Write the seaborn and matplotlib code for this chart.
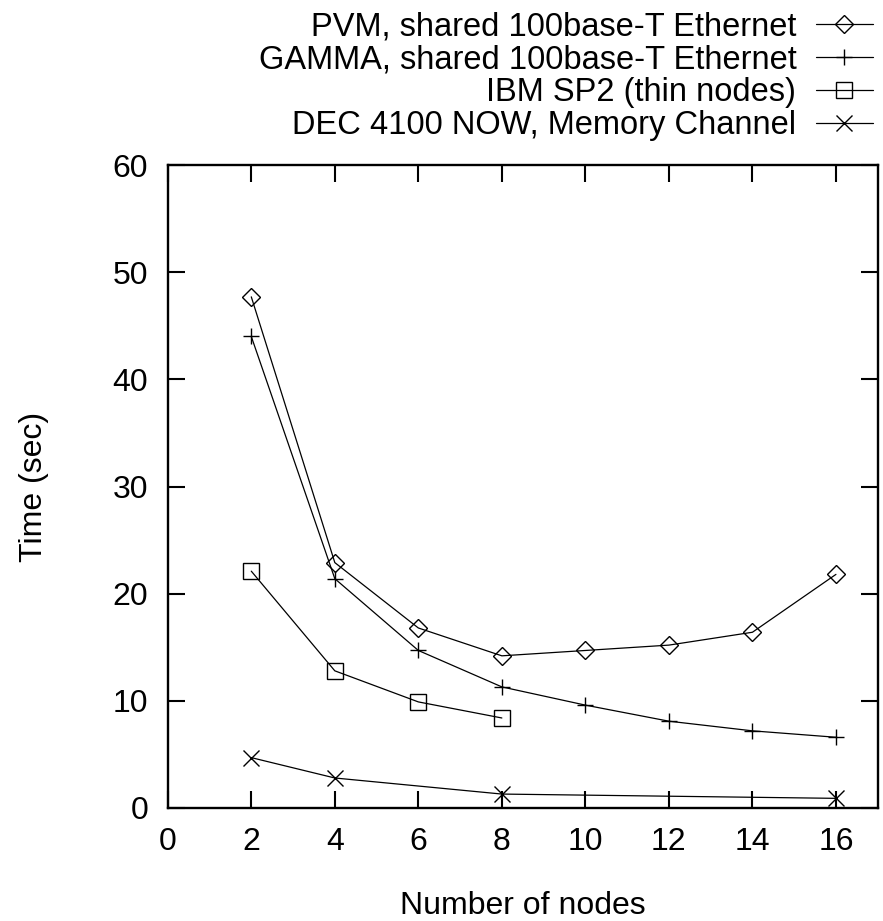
import matplotlib
matplotlib.use("Agg")
import matplotlib.pyplot as plt
import pandas as pd
import seaborn as sns

pvm_nodes = [2, 4, 6, 8, 10, 12, 14, 16]
pvm_time = [47.7, 22.9, 16.8, 14.2, 14.7, 15.2, 16.4, 21.8]

gamma_nodes = [2, 4, 6, 8, 10, 12, 14, 16]
gamma_time = [44.0, 21.4, 14.7, 11.3, 9.6, 8.1, 7.2, 6.6]

sp2_nodes = [2, 4, 6, 8]
sp2_time = [22.1, 12.8, 9.9, 8.4]

dec_nodes = [2, 4, 8, 16]
dec_time = [4.7, 2.8, 1.3, 0.9]

series_names = ["PVM, shared 100base-T Ethernet",
                "GAMMA, shared 100base-T Ethernet",
                "IBM SP2 (thin nodes)",
                "DEC 4100 NOW, Memory Channel"]
x_ticks = list(range(0, 17, 2))
y_ticks = list(range(0, 61, 10))

frames = []
for name, xs, ys in zip(series_names,
                        [pvm_nodes, gamma_nodes, sp2_nodes, dec_nodes],
                        [pvm_time, gamma_time, sp2_time, dec_time]):
    frames.append(pd.DataFrame({"nodes": xs, "time": ys, "system": name}))
df = pd.concat(frames, ignore_index=True)

sns.set_theme(style="ticks")
plt.rcParams['font.family'] = ['Liberation Sans', 'DejaVu Sans']
plt.rcParams['text.color'] = 'black'
plt.rcParams['axes.labelcolor'] = 'black'

FS = 23
LEG_FS = 23.5
fig = plt.figure(figsize=(8.83, 9.21), dpi=100)
ax = fig.add_axes([0.190, 0.1227, 0.804, 0.6981])

markers = {series_names[0]: ("D", 9), series_names[1]: ("+", 12),
           series_names[2]: ("s", 12), series_names[3]: ("x", 12)}

for name in series_names:
    sub = df[df["system"] == name]
    m, ms = markers[name]
    sns.lineplot(data=sub, x="nodes", y="time", ax=ax, color="black",
                 linewidth=0.9, marker=m, markersize=ms, mfc="none",
                 mec="black", mew=1.0, label=name)

ax.set_xlim(0, 17)
ax.set_ylim(0, 60)
ax.set_xticks(x_ticks)
ax.set_yticks(y_ticks)
ax.tick_params(direction="in", length=12, width=1.5, labelsize=FS,
               top=True, right=True, pad=14, colors="black")
for sp in ax.spines.values():
    sp.set_linewidth(1.7)
    sp.set_color("black")

ax.set_xlabel("Number of nodes", fontsize=FS, labelpad=24, color="black")
ax.set_ylabel("Time (sec)", fontsize=FS, labelpad=46, color="black")

leg = ax.legend(loc="upper right", bbox_to_anchor=(0.9887, 0.988),
                bbox_transform=fig.transFigure, frameon=False, markerfirst=False,
                fontsize=LEG_FS, handlelength=1.75, handletextpad=0.6,
                labelspacing=0.06, borderpad=0, borderaxespad=0)
for t in leg.get_texts():
    t.set_color("black")

fig.savefig("out.png", dpi=100)
